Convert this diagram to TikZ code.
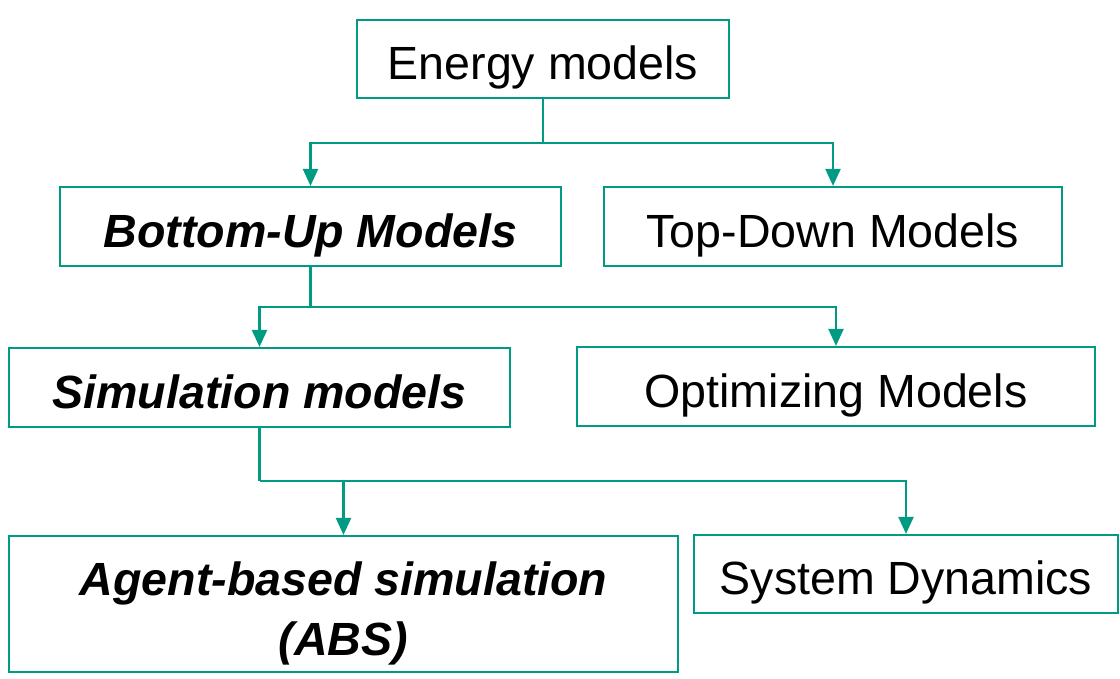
\documentclass[tikz,border=0pt]{standalone}
\usepackage{fontspec}
\setmainfont{Liberation Sans}
\usetikzlibrary{positioning}
\usetikzlibrary{calc}
\usetikzlibrary{arrows.meta}

\definecolor{linegreen}{RGB}{0,155,130}

\tikzset{
    caixa/.style={draw=linegreen, line width=1.2pt, fill=white,
                  inner sep=0pt, font=\fontsize{26.5pt}{34pt}\selectfont},
    umalinha/.style={text height=30.5pt, text depth=6.6pt},
    caixaBI/.style={caixa, font=\fontsize{26.5pt}{34pt}\selectfont\bfseries\itshape},
    linha/.style={draw=linegreen, line width=1.2pt},
    seta/.style={linha, -{Triangle[width=0.3cm, length=0.34cm]}}
}

\begin{document}
\begin{tikzpicture}

        \useasboundingbox (0,0) rectangle (22.4,-13.58);

        % Caixas simples
        \foreach \pos/\name/\w/\h/\txt in {{(10.86,-1.18)/energy/7.44/1.56/Energy models},
                                           {(16.66,-4.53)/topdown/9.16/1.58/Top-Down Models},
                                           {(16.72,-7.73)/optimizing/10.36/1.58/Optimizing Models},
                                           {(18.12,-11.48)/sysdyn/8.48/1.56/System Dynamics}}
            \node[caixa, umalinha, minimum width=\w cm, minimum height=\h cm] (\name) at \pos {\txt};

        % Caixas em destaque
        \foreach \pos/\name/\w/\h/\txt in {{(6.21,-4.53)/bottomup/10.02/1.58/Bottom-Up Models},
                                           {(5.19,-7.75)/simulation/10.02/1.58/Simulation models}}
            \node[caixaBI, umalinha, minimum width=\w cm, minimum height=\h cm] (\name) at \pos {\txt};
        \node[caixaBI, align=center, minimum width=13.38cm, minimum height=2.72cm] (agent) at (6.87,-12.08)
            {\rule{0pt}{1.13em}Agent-based simulation\\(ABS)};

        % Pontos de ramificação
        \coordinate (j1) at (10.86,-2.86);
        \coordinate (j2) at (6.21,-6.14);
        \coordinate (j3) at (5.19,-9.62);

        % Ligações
        \foreach \source/\junction in {energy/j1, bottomup/j2, simulation/j3}
            \draw[linha] (\source) -- (\junction);
        \foreach \junction/\target in {j1/bottomup, j1/topdown, j2/simulation,
                                       j2/optimizing, j3/agent, j3/sysdyn}
            \draw[seta] (\junction) -| (\target);

    \end{tikzpicture}
\end{document}
